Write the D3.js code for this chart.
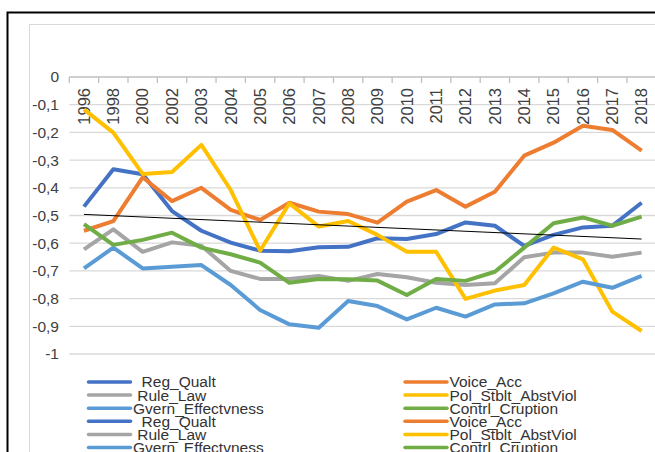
<!DOCTYPE html>
<html>
<head>
<meta charset="utf-8">
<script src="https://cdn.jsdelivr.net/npm/d3@7"></script>
<style>
  body { margin: 0; background: #fff; }
  svg { display: block; font-family: "Liberation Sans", Arial, sans-serif; }
  .leg text { white-space: pre; }
</style>
</head>
<body>
<svg id="chart" width="655" height="452"></svg>
<script>
// categories (years on the x axis)
const years = ["1996", "1998", "2000", "2002", "2003", "2004", "2005", "2006", "2007", "2008",
  "2009", "2010", "2011", "2012", "2013", "2014", "2015", "2016", "2017", "2018"];

// series values
const regQualt = [-0.468, -0.333, -0.351, -0.484, -0.555, -0.598, -0.627, -0.629, -0.615, -0.613,
  -0.582, -0.585, -0.567, -0.525, -0.537, -0.610, -0.570, -0.543, -0.537, -0.454];
const voiceAcc = [-0.555, -0.520, -0.362, -0.448, -0.400, -0.480, -0.516, -0.454, -0.486, -0.495,
  -0.526, -0.450, -0.408, -0.468, -0.414, -0.284, -0.237, -0.176, -0.191, -0.266];
const ruleLaw = [-0.622, -0.550, -0.631, -0.597, -0.609, -0.700, -0.729, -0.729, -0.718, -0.736,
  -0.711, -0.723, -0.743, -0.751, -0.745, -0.651, -0.634, -0.634, -0.649, -0.634];
const polStblt = [-0.117, -0.201, -0.350, -0.343, -0.245, -0.408, -0.627, -0.456, -0.540, -0.520,
  -0.570, -0.631, -0.631, -0.801, -0.771, -0.751, -0.616, -0.658, -0.847, -0.917];
const gvernEff = [-0.691, -0.616, -0.691, -0.685, -0.679, -0.751, -0.841, -0.893, -0.905, -0.809,
  -0.827, -0.875, -0.833, -0.865, -0.821, -0.817, -0.781, -0.739, -0.761, -0.718];
const contrlCrupt = [-0.531, -0.606, -0.588, -0.562, -0.616, -0.640, -0.670, -0.743, -0.729, -0.730,
  -0.735, -0.787, -0.729, -0.736, -0.703, -0.616, -0.528, -0.507, -0.537, -0.504];

// linear trend line, start and end values
const trend = [-0.496, -0.585];

// y tick labels
const yTicks = [0, -0.1, -0.2, -0.3, -0.4, -0.5, -0.6, -0.7, -0.8, -0.9, -1];
const yTickLabels = ["0", "-0,1", "-0,2", "-0,3", "-0,4", "-0,5", "-0,6", "-0,7", "-0,8", "-0,9", "-1"];

const series = [
  { name: "  Reg_Qualt", values: regQualt, color: "#4472C4" },
  { name: "Voice_Acc", values: voiceAcc, color: "#ED7D31" },
  { name: " Rule_Law", values: ruleLaw, color: "#A5A5A5" },
  { name: "Pol_Stblt_AbstViol", values: polStblt, color: "#FFC000" },
  { name: "Gvern_Effectvness", values: gvernEff, color: "#5B9BD5" },
  { name: "Contrl_Cruption", values: contrlCrupt, color: "#70AD47" }
];

const svg = d3.select("#chart");

// chart frame and plot area border
svg.append("rect")
  .attr("x", 7.5).attr("y", 12.5).attr("width", 700).attr("height", 500)
  .attr("fill", "#fff").attr("stroke", "#000").attr("stroke-width", 2);
svg.append("rect")
  .attr("x", 29.5).attr("y", 24.5).attr("width", 700).attr("height", 500)
  .attr("fill", "none").attr("stroke", "#D9D9D9").attr("stroke-width", 1);

const x = d3.scaleBand().domain(years).range([69.3, 656.3]).padding(0);
const y = d3.scaleLinear().domain([-1, 0]).range([354, 77]);
const cx = d => x(d) + x.bandwidth() / 2;

// gridlines
svg.append("g")
  .selectAll("line")
  .data(yTicks.filter(d => d !== 0))
  .join("line")
  .attr("x1", 69.3).attr("x2", 656)
  .attr("y1", d => y(d)).attr("y2", d => y(d))
  .attr("stroke", "#D9D9D9").attr("stroke-width", 1.3);

// y labels
svg.append("g")
  .selectAll("text")
  .data(yTicks)
  .join("text")
  .attr("x", 59)
  .attr("y", d => y(d))
  .attr("dy", "0.35em")
  .attr("text-anchor", "end")
  .attr("font-size", 15.5)
  .attr("fill", "#404040")
  .text((d, i) => yTickLabels[i]);

// x axis at zero with ticks between categories
const xAxis = svg.append("g");
xAxis.append("line")
  .attr("x1", 69.3).attr("x2", 656)
  .attr("y1", y(0)).attr("y2", y(0))
  .attr("stroke", "#BFBFBF").attr("stroke-width", 1.3);
xAxis.selectAll("line.tick")
  .data(years.concat(["end"]))
  .join("line")
  .attr("class", "tick")
  .attr("x1", (d, i) => 69.3 + i * x.bandwidth())
  .attr("x2", (d, i) => 69.3 + i * x.bandwidth())
  .attr("y1", y(0)).attr("y2", y(0) + 6)
  .attr("stroke", "#BFBFBF").attr("stroke-width", 1.3);
xAxis.selectAll("text")
  .data(years)
  .join("text")
  .attr("transform", d => `translate(${cx(d)},${y(0) + 11}) rotate(-90)`)
  .attr("dy", "0.35em")
  .attr("text-anchor", "end")
  .attr("font-size", 16.5)
  .attr("fill", "#404040")
  .text(d => d);

// series lines
const line = d3.line()
  .x((d, i) => cx(years[i]))
  .y(d => y(d));

svg.append("g")
  .selectAll("path")
  .data(series)
  .join("path")
  .attr("d", d => line(d.values))
  .attr("fill", "none")
  .attr("stroke", d => d.color)
  .attr("stroke-width", 4)
  .attr("stroke-linejoin", "round");

// trend line
svg.append("line")
  .attr("x1", cx(years[0])).attr("x2", cx(years[years.length - 1]))
  .attr("y1", y(trend[0])).attr("y2", y(trend[1]))
  .attr("stroke", "#000").attr("stroke-width", 1);

// legend (two columns, series listed twice)
const legendItems = series.concat(series);
const leg = svg.append("g").attr("class", "leg");
const item = leg.selectAll("g")
  .data(legendItems)
  .join("g")
  .attr("transform", (d, i) => `translate(${i % 2 === 0 ? 88.5 : 405}, ${382 + Math.floor(i / 2) * 13.1})`);
item.append("line")
  .attr("x1", 0).attr("x2", 42)
  .attr("stroke", d => d.color)
  .attr("stroke-width", 3.5)
  .attr("stroke-linecap", "round");
item.append("text")
  .attr("x", (d, i) => i % 2 === 0 ? 44.5 : 44.5)
  .attr("dy", "0.35em")
  .attr("font-size", 15.5)
  .attr("fill", "#333")
  .text(d => d.name);
</script>
</body>
</html>
